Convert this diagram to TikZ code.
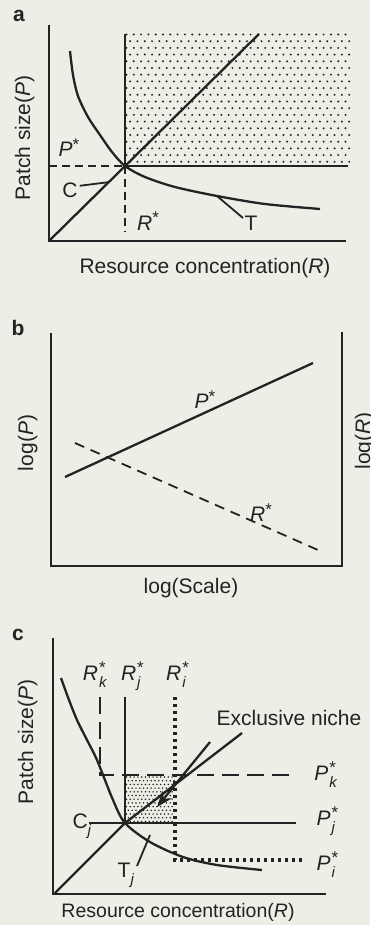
\documentclass[tikz,border=0pt]{standalone}
\usepackage{fontspec}
\setmainfont{Liberation Sans}
\usetikzlibrary{arrows.meta}
\definecolor{bg}{RGB}{238,238,231}
\definecolor{ink}{RGB}{35,35,35}
\newcommand\fs{\fontsize{21}{21}\selectfont}
\newcommand\pstar[1]{\textit{#1}\raisebox{6pt}{\fontsize{17}{17}\selectfont *}}
\newcommand\pst[2]{\textit{#1}\kern1pt\rlap{\raisebox{7pt}{\fontsize{17}{17}\selectfont *}}\raisebox{-7pt}{\fontsize{15}{15}\selectfont\textit{#2}}\kern4pt}
\newcommand\psub[2]{#1\raisebox{-7pt}{\fontsize{15}{15}\selectfont\textit{#2}}}
\tikzset{
  ax/.style={draw=ink, line width=2pt},
  ln/.style={draw=ink, line width=2.3pt},
  dsha/.style={draw=ink, line width=1.8pt, dash pattern=on 8pt off 5pt},
  dshb/.style={draw=ink, line width=1.8pt, dash pattern=on 10pt off 7pt},
  dshc/.style={draw=ink, line width=1.6pt, dash pattern=on 17pt off 8pt},
  dotc/.style={draw=ink, line width=3.5pt, dash pattern=on 3pt off 4pt},
  txt/.style={text=ink, font=\fs, inner sep=0pt},
  panel/.style={text=ink, font=\fontsize{21}{21}\selectfont\bfseries, inner sep=0pt, anchor=base},
}
\begin{document}
\begin{tikzpicture}[x=1pt,y=-1pt]
\fill[bg] (0,0) rectangle (370,925);
\useasboundingbox (0,0) rectangle (370,925);
\clip (0,0) rectangle (370,925);

% ---------------- panel a
\node[panel] (la) at (19,22) {a};
\begin{scope}
\clip (124,32) rectangle (350,167);
\foreach \j in {0,...,19} {
  \foreach \i in {0,...,30} {
    \fill[ink] ({126.5+\i*7.3+mod(\j,2)*3.65},{34.5+\j*6.7}) circle (1.1);
  }
}
\end{scope}
\draw[ax] (49,25) -- (49,241) -- (346,241);
\draw[ln] (125,34) -- (125,166) -- (348,166);
\draw[ln] (49,241) -- (259,34);
\draw[dsha] (49,166) -- (125,166);
\draw[dsha] (125,166) -- (125,232);
\draw[ln] plot[smooth] coordinates {(70,51) (73,75) (78,96) (88,117) (100,135) (112,152) (125,166) (145,177) (175,187) (217,196) (265,204) (320,209)};
\node[txt, anchor=base] (pa) at (69,157) {\pstar{P}};
\node[txt, anchor=base] (ra) at (148,230) {\pstar{R}};
\node[txt, anchor=base] (ca) at (70,198) {C};
\node[txt, anchor=base] (ta) at (251,230) {T};
\coordinate (cae) at (110,182);
\coordinate (tae) at (217,196);
\draw[ink, line width=1.8pt] (ca.east) ++(2,-5) -- (cae);
\draw[ink, line width=1.8pt] (243,218) -- (tae);
\node[txt, anchor=base] (xa) at (205,273) {Resource concentration(\textit{R})};
\node[txt, anchor=base, rotate=90] (ya) at (30,138) {Patch size(\textit{P})};

% ---------------- panel b
\node[panel] (lb) at (18,335) {b};
\draw[ax] (51,333) -- (51,566) -- (342,566) -- (342,332);
\draw[ln] (65,477) -- (313,363);
\draw[dshb] (75,443) -- (318,550);
\node[txt, anchor=base] (pb) at (205,408) {\pstar{P}};
\node[txt, anchor=base] (rb) at (261,521) {\pstar{R}};
\node[txt, anchor=base] (xb) at (191,593) {log(Scale)};
\node[txt, anchor=base, rotate=90] (yb) at (33,443) {log(\textit{P})};
\node[txt, anchor=base, rotate=90] (yb2) at (370,441) {log(\textit{R})};

% ---------------- panel c
\node[panel] (lc) at (18,640) {c};
\begin{scope}
\clip (125,775) rectangle (175,823);
\foreach \j in {0,...,13} {
  \foreach \i in {0,...,14} {
    \fill[ink] ({126.5+\i*3.8+mod(\j,2)*1.9},{777+\j*3.7}) circle (0.85);
  }
}
\end{scope}
\draw[ax] (53,638) -- (53,894) -- (326,894);
\draw[dshc] (100,697) -- (100,775) -- (292,775);
\draw[ln] (125,697) -- (125,823) -- (296,823);
\draw[dotc] (175,697) -- (175,860) -- (303,860);
\draw[ln] plot[smooth] coordinates {(61,678) (69,700) (77,720) (87,740) (97,760) (113,800) (125,823) (150,842) (183,857) (217,865) (262,870)};
\draw[ln] (55,893) -- (125,823) -- (242,733);
\coordinate (arrs) at (210,742);
\coordinate (arre) at (157,807);
\draw[ink, line width=2.3pt, -{Stealth[length=16pt,width=12pt]}] (arrs) -- (arre);
\node[txt, anchor=base] (rk) at (97,680) {\pst{R}{k}};
\node[txt, anchor=base] (rj) at (133,680) {\pst{R}{j}};
\node[txt, anchor=base] (ri) at (178,680) {\pst{R}{i}};
\node[txt, anchor=base] (pk) at (328,780) {\pst{P}{k}};
\node[txt, anchor=base] (pj) at (328,825) {\pst{P}{j}};
\node[txt, anchor=base] (pi) at (328,870) {\pst{P}{i}};
\node[txt, anchor=base] (ex) at (289,725) {Exclusive niche};
\node[txt, anchor=base] (cj) at (82,828) {\psub{C}{j}};
\node[txt, anchor=base] (tj) at (126,877) {\psub{T}{j}};
\coordinate (cje) at (125,823);
\coordinate (tje) at (150,835);
\draw[ink, line width=1.8pt] (89,823) -- (cje);
\draw[ink, line width=1.8pt] (137,866) -- (tje);
\node[txt, anchor=base, font=\fontsize{19.5}{19.5}\selectfont] (xc) at (178,917) {Resource concentration(\textit{R})};
\node[txt, anchor=base, rotate=90] (yc) at (33,742) {Patch size(\textit{P})};
\end{tikzpicture}
\end{document}
